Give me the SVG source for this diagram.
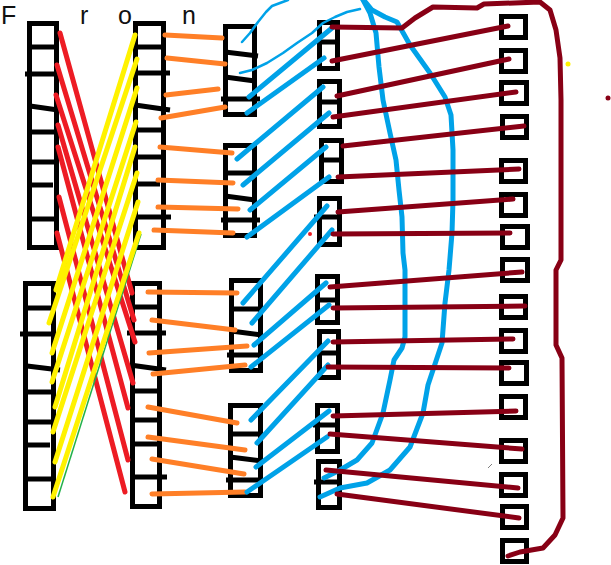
<svg xmlns="http://www.w3.org/2000/svg" width="611" height="565" viewBox="0 0 611 565">
<style>
.box{fill:none;stroke:#000;stroke-width:5}
.div{stroke:#000;stroke-width:5;stroke-linecap:butt}
.sq{fill:none;stroke:#000;stroke-width:5}
.red{stroke:#ed1c24;stroke-width:5;stroke-linecap:round}
.yel{stroke:#fff200;stroke-width:5;stroke-linecap:round}
.org{stroke:#ff7f27;stroke-width:5;stroke-linecap:round}
.blu{stroke:#00a2e8;stroke-width:5;stroke-linecap:round}
.dr{stroke:#880015;stroke-width:5;stroke-linecap:round}
.curve{fill:none;stroke:#00a2e8;stroke-width:5;stroke-linejoin:round;stroke-linecap:round}
.thin{fill:none;stroke:#00a2e8;stroke-width:2.5;stroke-linejoin:round;stroke-linecap:round}
</style>
<rect width="611" height="565" fill="#fff"/>
<text x="1 80 118 182" y="24" font-family="Liberation Sans, sans-serif" font-size="25" fill="#111">Fron</text>

<g id="col1-upper">
<rect class="box" x="29.5" y="23.5" width="27" height="224"/>
<line class="div" x1="29" y1="47" x2="57" y2="47"/>
<line class="div" x1="25" y1="74" x2="60" y2="74"/>
<line class="div" x1="30" y1="106" x2="58" y2="110"/>
<line class="div" x1="29" y1="132" x2="57" y2="132"/>
<line class="div" x1="29" y1="162" x2="57" y2="162"/>
<line class="div" x1="29" y1="185" x2="53" y2="185"/>
<line class="div" x1="29" y1="219" x2="57" y2="219"/>
</g>
<g id="col1-lower">
<rect class="box" x="25.5" y="283.5" width="28" height="225"/>
<line class="div" x1="25" y1="308" x2="54" y2="308"/>
<line class="div" x1="20" y1="334" x2="55" y2="334"/>
<line class="div" x1="27" y1="366" x2="60" y2="370"/>
<line class="div" x1="25" y1="392" x2="54" y2="392"/>
<line class="div" x1="25" y1="422" x2="54" y2="422"/>
<line class="div" x1="25" y1="445" x2="50" y2="445"/>
<line class="div" x1="25" y1="479" x2="54" y2="479"/>
</g>
<g id="col2-upper">
<rect class="box" x="135.5" y="23.5" width="28" height="224"/>
<line class="div" x1="135" y1="47" x2="164" y2="47"/>
<line class="div" x1="135" y1="73" x2="170" y2="73"/>
<line class="div" x1="135" y1="105" x2="170" y2="110"/>
<line class="div" x1="135" y1="130" x2="164" y2="130"/>
<line class="div" x1="135" y1="157" x2="164" y2="157"/>
<line class="div" x1="135" y1="184" x2="160" y2="184"/>
<line class="div" x1="135" y1="217" x2="171" y2="217"/>
</g>
<g id="col2-lower">
<rect class="box" x="132.5" y="283.5" width="27" height="223"/>
<line class="div" x1="132" y1="307" x2="160" y2="307"/>
<line class="div" x1="127" y1="333" x2="166" y2="333"/>
<line class="div" x1="130" y1="365" x2="166" y2="370"/>
<line class="div" x1="132" y1="391" x2="160" y2="391"/>
<line class="div" x1="132" y1="420" x2="160" y2="420"/>
<line class="div" x1="133" y1="444" x2="157" y2="444"/>
<line class="div" x1="133" y1="477" x2="167" y2="477"/>
</g>

<g id="col3-a">
<rect class="box" x="225.5" y="26.5" width="29" height="88"/>
<line class="div" x1="225" y1="52" x2="258" y2="56"/>
<line class="div" x1="225" y1="77" x2="255" y2="81"/>
<line class="div" x1="221" y1="99" x2="260" y2="99"/>
</g>
<g id="col3-b">
<rect class="box" x="225.5" y="145.5" width="29" height="90"/>
<line class="div" x1="225" y1="173" x2="255" y2="173"/>
<line class="div" x1="225" y1="196" x2="255" y2="200"/>
<line class="div" x1="221" y1="220" x2="260" y2="220"/>
</g>
<g id="col3-c">
<rect class="box" x="231.5" y="280.5" width="29" height="90"/>
<line class="div" x1="231" y1="309" x2="261" y2="309"/>
<line class="div" x1="231" y1="331" x2="262" y2="335"/>
<line class="div" x1="227" y1="355" x2="263" y2="355"/>
</g>
<g id="col3-d">
<rect class="box" x="230.5" y="405.5" width="30" height="90"/>
<line class="div" x1="230" y1="434" x2="261" y2="434"/>
<line class="div" x1="230" y1="457" x2="262" y2="461"/>
<line class="div" x1="226" y1="480" x2="263" y2="480"/>
</g>

<g id="col4-a"><rect class="box" x="319.5" y="22.5" width="18" height="46"/><line class="div" x1="319" y1="42" x2="338" y2="42"/></g>
<g id="col4-b"><rect class="box" x="319.5" y="81.5" width="20" height="45"/><line class="div" x1="319" y1="102" x2="340" y2="102"/></g>
<g id="col4-c"><rect class="box" x="321.5" y="140.5" width="20" height="41"/><line class="div" x1="321" y1="160" x2="342" y2="160"/></g>
<g id="col4-d"><rect class="box" x="319.5" y="198.5" width="20" height="46"/><line class="div" x1="314" y1="217" x2="340" y2="217"/></g>
<g id="col4-e"><rect class="box" x="317.5" y="276.5" width="20" height="46"/><line class="div" x1="317" y1="300" x2="338" y2="300"/></g>
<g id="col4-f"><rect class="box" x="319.5" y="331.5" width="19" height="46"/><line class="div" x1="319" y1="353" x2="339" y2="353"/></g>
<g id="col4-g"><rect class="box" x="317.5" y="405.5" width="20" height="46"/><line class="div" x1="313" y1="425" x2="338" y2="425"/></g>
<g id="col4-h"><rect class="box" x="318.5" y="461.5" width="21" height="46"/><line class="div" x1="314" y1="482" x2="340" y2="482"/></g>

<g id="sq1"><rect class="sq" x="501.5" y="16.5" width="24" height="21"/></g>
<g id="sq2"><rect class="sq" x="501.5" y="50.5" width="24" height="21"/></g>
<g id="sq3"><rect class="sq" x="501.5" y="82.5" width="25" height="21"/></g>
<g id="sq4"><rect class="sq" x="502.5" y="116.5" width="24" height="21"/></g>
<g id="sq5"><rect class="sq" x="501.5" y="160.5" width="24" height="21"/></g>
<g id="sq6"><rect class="sq" x="501.5" y="194.5" width="24" height="21"/></g>
<g id="sq7"><rect class="sq" x="502.5" y="226.5" width="25" height="21"/></g>
<g id="sq8"><rect class="sq" x="502.5" y="259.5" width="25" height="21"/></g>
<g id="sq9"><rect class="sq" x="501.5" y="296.5" width="24" height="21"/></g>
<g id="sq10"><rect class="sq" x="501.5" y="330.5" width="24" height="21"/></g>
<g id="sq11"><rect class="sq" x="501.5" y="362.5" width="25" height="21"/></g>
<g id="sq12"><rect class="sq" x="501.5" y="396.5" width="24" height="21"/></g>
<g id="sq13"><rect class="sq" x="501.5" y="440.5" width="24" height="21"/></g>
<g id="sq14"><rect class="sq" x="501.5" y="474.5" width="24" height="21"/></g>
<g id="sq15"><rect class="sq" x="502.5" y="506.5" width="24" height="21"/></g>
<g id="sq16"><rect class="sq" x="502.5" y="540.5" width="24" height="21"/></g>

<g id="connectors">
<g id="red-lines">
<line class="red" x1="60" y1="33" x2="132" y2="293"/>
<line class="red" x1="57" y1="65" x2="134" y2="320"/>
<line class="red" x1="56" y1="95" x2="135" y2="342"/>
<line class="red" x1="58" y1="125" x2="133" y2="383"/>
<line class="red" x1="58" y1="147" x2="128" y2="408"/>
<line class="red" x1="59" y1="197" x2="128" y2="460"/>
<line class="red" x1="57" y1="233" x2="125" y2="492"/>
</g>
<line x1="141" y1="234" x2="58" y2="497" stroke="#22b14c" stroke-width="1.5"/>
<g id="yellow-lines">
<line class="yel" x1="135" y1="35" x2="56" y2="290"/>
<line class="yel" x1="137" y1="59" x2="49" y2="323"/>
<line class="yel" x1="137" y1="88" x2="52" y2="353"/>
<line class="yel" x1="136" y1="122" x2="52" y2="382"/>
<line class="yel" x1="135" y1="147" x2="55" y2="407"/>
<line class="yel" x1="137" y1="173" x2="53" y2="432"/>
<line class="yel" x1="138" y1="202" x2="55" y2="462"/>
<line class="yel" x1="139" y1="233" x2="53" y2="497"/>
</g>
<g id="orange-lines">
<line class="org" x1="165" y1="35" x2="222" y2="38"/>
<line class="org" x1="167" y1="58" x2="225" y2="64"/>
<line class="org" x1="166" y1="95" x2="218" y2="89"/>
<line class="org" x1="161" y1="118" x2="225" y2="107"/>
<line class="org" x1="160" y1="147" x2="232" y2="153"/>
<line class="org" x1="158" y1="180" x2="233" y2="183"/>
<line class="org" x1="158" y1="207" x2="238" y2="209"/>
<line class="org" x1="154" y1="230" x2="233" y2="233"/>
<line class="org" x1="148" y1="292" x2="237" y2="293"/>
<line class="org" x1="152" y1="320" x2="235" y2="330"/>
<line class="org" x1="149" y1="353" x2="247" y2="346"/>
<line class="org" x1="153" y1="374" x2="245" y2="365"/>
<line class="org" x1="148" y1="407" x2="237" y2="423"/>
<line class="org" x1="148" y1="437" x2="245" y2="450"/>
<line class="org" x1="152" y1="459" x2="244" y2="474"/>
<line class="org" x1="152" y1="494" x2="245" y2="492"/>
</g>
<g id="blue-lines">
<line class="blu" x1="249" y1="97" x2="332" y2="28"/>
<line class="blu" x1="247" y1="113" x2="324" y2="58"/>
<line class="blu" x1="237" y1="159" x2="323" y2="87"/>
<line class="blu" x1="243" y1="185" x2="329" y2="113"/>
<line class="blu" x1="250" y1="210" x2="326" y2="147"/>
<line class="blu" x1="247" y1="237" x2="329" y2="177"/>
<line class="blu" x1="243" y1="303" x2="327" y2="206"/>
<line class="blu" x1="252" y1="323" x2="332" y2="230"/>
<line class="blu" x1="254" y1="345" x2="326" y2="283"/>
<line class="blu" x1="251" y1="367" x2="329" y2="305"/>
<line class="blu" x1="251" y1="420" x2="328" y2="341"/>
<line class="blu" x1="257" y1="443" x2="328" y2="365"/>
<line class="blu" x1="256" y1="467" x2="329" y2="411"/>
<line class="blu" x1="247" y1="492" x2="327" y2="437"/>
</g>
<g id="blue-curves">
<polyline class="thin" points="242,42 250,33 258,22 266,12 272,6 280,3 288,0"/>
<polyline class="thin" points="240,73 252,70 267,63 283,53 297,43 312,33 323,23 335,17 347,12 360,9"/>
<polyline class="curve" points="362,-2 370,13 376,33 379,67 383,100 390,133 396,160 399,190 402,217 403,253 405,270 405,337 402,348 394,360 390,380 383,413 372,443 357,460 340,470 324,478"/>
<polyline class="curve" points="362,-2 372,10 385,17 397,22 410,45 430,73 445,97 451,115 453,150 453,200 452,233 449,270 445,303 442,343 433,370 428,385 423,413 410,447 390,470 367,483 340,488 320,497"/>
</g>
<g id="darkred-lines">
<line class="dr" x1="332" y1="61" x2="508" y2="26"/>
<line class="dr" x1="337" y1="96" x2="509" y2="59"/>
<line class="dr" x1="333" y1="117" x2="516" y2="92"/>
<line class="dr" x1="343" y1="146" x2="524" y2="126"/>
<line class="dr" x1="338" y1="177" x2="519" y2="169"/>
<line class="dr" x1="338" y1="212" x2="513" y2="199"/>
<line class="dr" x1="333" y1="234" x2="510" y2="233"/>
<line class="dr" x1="330" y1="287" x2="522" y2="272"/>
<line class="dr" x1="333" y1="308" x2="525" y2="306"/>
<line class="dr" x1="333" y1="342" x2="513" y2="339"/>
<line class="dr" x1="328" y1="367" x2="509" y2="368"/>
<line class="dr" x1="333" y1="416" x2="516" y2="411"/>
<line class="dr" x1="330" y1="434" x2="522" y2="449"/>
<line class="dr" x1="326" y1="470" x2="518" y2="488"/>
<line class="dr" x1="337" y1="494" x2="519" y2="518"/>
<polyline points="332,27 402,28 415,18 433,7 477,8 484,4 540,2 550,10 556,30 560,58 561,100 561,260 556,270 556,345 562,358 563,518 555,535 543,548 520,552 508,556" fill="none" stroke="#880015" stroke-width="5" stroke-linejoin="round" stroke-linecap="round"/>
</g>
</g>
<circle cx="568" cy="64" r="2.5" fill="#fff200"/>
<circle cx="608" cy="98" r="2.5" fill="#880015"/>
<circle cx="310" cy="234" r="2" fill="#ed1c24"/>
<line x1="488" y1="468" x2="492" y2="464" stroke="#7f7f7f" stroke-width="1"/>
</svg>
